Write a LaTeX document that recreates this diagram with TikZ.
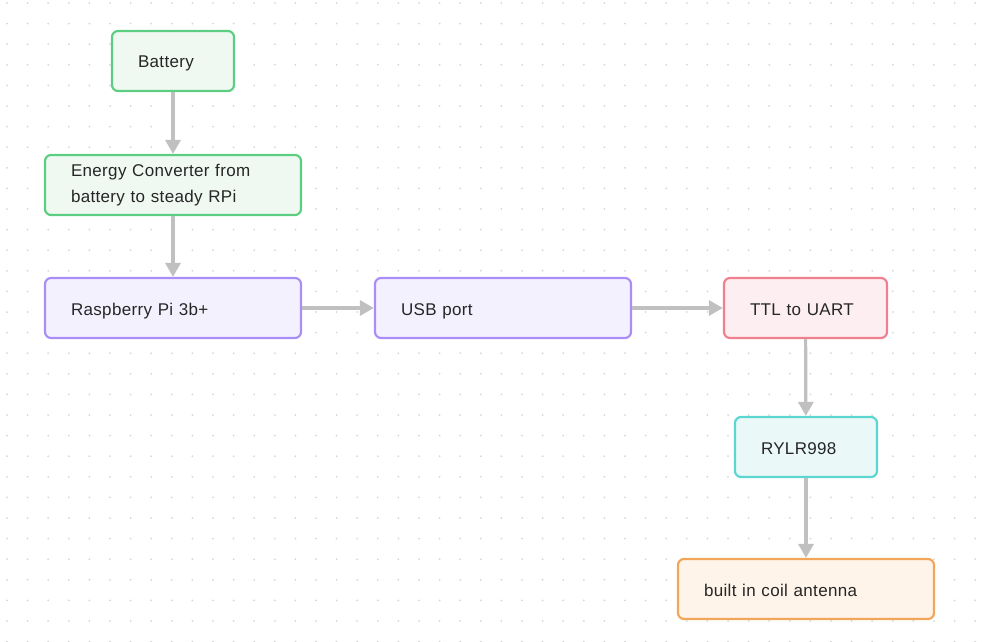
\documentclass[tikz,border=0pt]{standalone}
\usepackage{fontspec}
\setmainfont{Liberation Sans}[LetterSpace=2]
\usetikzlibrary{arrows.meta}

\definecolor{grnline}{RGB}{92,206,130}
\definecolor{grnfill}{RGB}{239,249,242}
\definecolor{purline}{RGB}{168,142,246}
\definecolor{purfill}{RGB}{244,241,254}
\definecolor{redline}{RGB}{240,128,144}
\definecolor{redfill}{RGB}{253,239,241}
\definecolor{cyaline}{RGB}{92,214,208}
\definecolor{cyafill}{RGB}{234,248,248}
\definecolor{oraline}{RGB}{242,166,90}
\definecolor{orafill}{RGB}{254,244,234}
\definecolor{arrowgray}{RGB}{192,192,192}
\definecolor{dotgray}{RGB}{214,214,214}

\tikzset{
	block/.style={draw, rounded corners=6pt, line width=2.2pt, inner xsep=26pt,
		inner ysep=0pt, minimum height=60pt, align=left,
		font=\fontsize{17}{26}\selectfont, text=black!85},
	oneline/.style={text height=15pt, text depth=1pt},
	grn/.style={block, draw=grnline, fill=grnfill},
	pur/.style={block, oneline, draw=purline, fill=purfill},
	rdb/.style={block, oneline, draw=redline, fill=redfill},
	cya/.style={block, oneline, draw=cyaline, fill=cyafill},
	ora/.style={block, oneline, draw=oraline, fill=orafill},
	flow/.style={draw=arrowgray, line width=3.2pt, -{Triangle[length=14pt, width=15pt]}}
}

\begin{document}
\begin{tikzpicture}[x=1pt, y=-1pt]
	\useasboundingbox (0,0) rectangle (988,642);
	% dotted background
	\foreach \i in {0,...,47} {
		\foreach \j in {0,...,31} {
			\fill[dotgray] (7+20.6*\i, 3+20.6*\j) circle (1pt);
		}
	}
	\node[grn, oneline, text width=70pt] (BAT) at (173,61) {Battery};
	\node[grn, text width=204pt] (CONV) at (173,185) {Energy Converter from\\battery to steady RPi};
	\node[pur, text width=204pt] (RPI) at (173,308) {Raspberry Pi 3b+};
	\node[pur, text width=204pt] (USB) at (503,308) {USB port};
	\node[rdb, text width=111pt] (TTL) at (805.5,308) {TTL to UART};
	\node[cya, text width=90pt] (RYLR) at (806,447) {RYLR998};
	\node[ora, text width=204pt] (ANT) at (806,589) {built in coil antenna};
	\draw[flow] (BAT) to (CONV);
	\draw[flow] (CONV) to (RPI);
	\draw[flow] (RPI) to (USB);
	\draw[flow] (USB) to (TTL);
	\draw[flow] (TTL) to (RYLR);
	\draw[flow] (RYLR) to (ANT);
\end{tikzpicture}
\end{document}
